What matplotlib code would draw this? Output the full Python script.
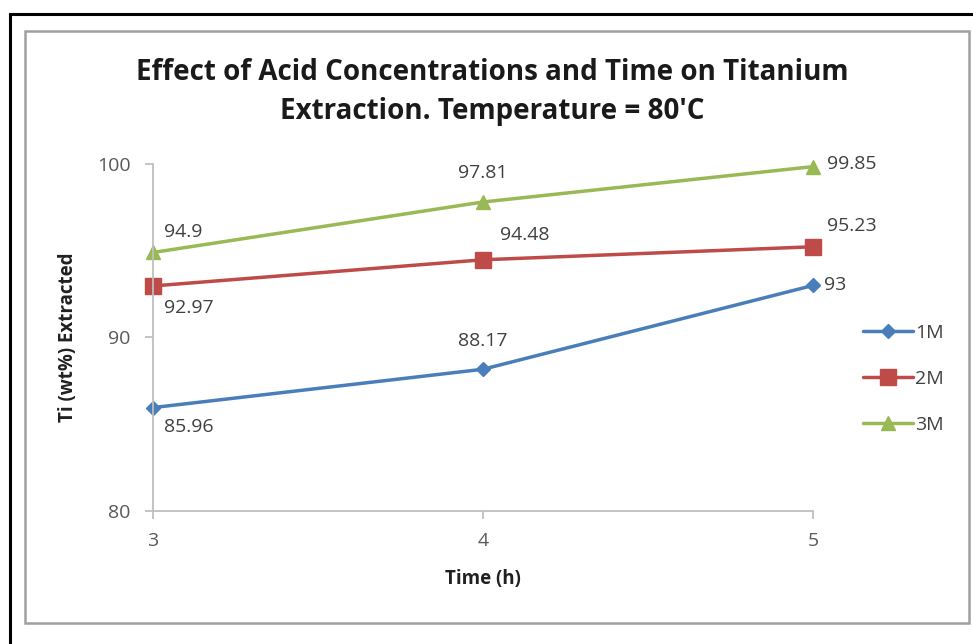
import matplotlib.pyplot as plt
from matplotlib.patches import Rectangle

plt.rcParams['font.family'] = ['Open Sans', 'DejaVu Sans']

# Data
times = [3, 4, 5]
series_names = ['1M', '2M', '3M']
ti_1m = [85.96, 88.17, 93]
ti_2m = [92.97, 94.48, 95.23]
ti_3m = [94.9, 97.81, 99.85]
yticks = [80, 90, 100]

colors = ['#4A7EBB', '#BE4B48', '#98B954']
markers = ['D', 's', '^']
msizes = [7, 11, 10]
# label offsets (points) for each data label
offsets = [
    [(8, -14), (0, 20), (8, 0)],
    [(8, -16), (12, 18), (10, 15)],
    [(8, 15), (0, 21), (10, 2)],
]
aligns = [
    [('left', 'center'), ('center', 'center'), ('left', 'center')],
    [('left', 'center'), ('left', 'center'), ('left', 'center')],
    [('left', 'center'), ('center', 'center'), ('left', 'center')],
]

fig = plt.figure(figsize=(9.73, 6.44), dpi=100)
W, H = 973, 644

# outer black frame and inner gray chart-area frame
fig.patches.append(Rectangle((10 / W, -0.05), 1.0, 1 - 14 / H + 0.05, transform=fig.transFigure,
                             fill=False, edgecolor='black', linewidth=2.2))
fig.patches.append(Rectangle((25 / W, 1 - 623 / H), (969 - 25) / W, (623 - 31) / H,
                             transform=fig.transFigure, fill=False, edgecolor='#A0A0A0', linewidth=1.8))

ax = fig.add_axes([153 / W, 1 - 511 / H, 660 / W, 347 / H])

for vals, name, c, m, ms, offs, als in zip([ti_1m, ti_2m, ti_3m], series_names, colors,
                                            markers, msizes, offsets, aligns):
    ax.plot(times, vals, color=c, marker=m, markersize=ms, linewidth=2.5, label=name,
            markeredgecolor=c, solid_capstyle='round', clip_on=False)
    for x, v, o, (ha, va) in zip(times, vals, offs, als):
        ax.annotate(f'{v:g}', (x, v), xytext=o, textcoords='offset points', ha=ha, va=va,
                    fontsize=14, color='#404040')

ax.set_xlim(3, 5)
ax.set_ylim(80, 100)
ax.set_xticks(times)
ax.set_yticks(yticks)
for s in ['top', 'right']:
    ax.spines[s].set_visible(False)
for s in ['left', 'bottom']:
    ax.spines[s].set_color('#BFBFBF')
    ax.spines[s].set_linewidth(1.3)
ax.tick_params(colors='#BFBFBF', labelcolor='#595959', labelsize=14, length=6, width=1.3)
ax.tick_params(axis='y', pad=10)
ax.tick_params(axis='x', pad=9)

ax.set_xlabel('Time (h)', fontsize=13.5, fontweight='bold', labelpad=14, color='#202020')
ax.set_ylabel('Ti (wt%) Extracted', fontsize=13.5, fontweight='bold', labelpad=14, color='#202020')

fig.text(492 / W, 1 - 92 / H, 'Effect of Acid Concentrations and Time on Titanium\nExtraction. Temperature = 80\'C',
         ha='center', va='center', fontsize=20, fontweight='bold', linespacing=1.45, color='#1a1a1a')

ax.legend(loc='center left', bbox_to_anchor=(845 / W, 1 - 379 / H), bbox_transform=fig.transFigure,
          frameon=False, fontsize=14, handlelength=2.6, labelspacing=1.45, handletextpad=0.1,
          labelcolor='#404040')

fig.savefig('out.png', dpi=100, facecolor='white')
